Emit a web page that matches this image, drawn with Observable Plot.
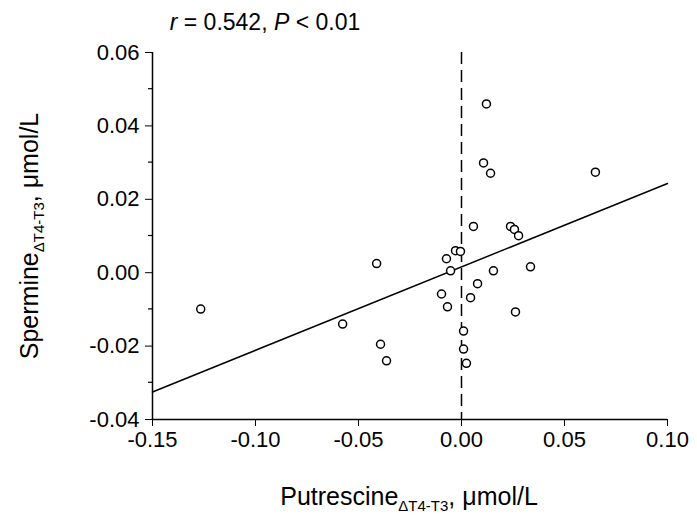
<!DOCTYPE html>
<html><head><meta charset="utf-8">
<script src="https://cdn.jsdelivr.net/npm/d3@7"></script>
<script src="https://cdn.jsdelivr.net/npm/@observablehq/plot@0.6"></script>
<style>body{margin:0;background:#fff}</style>
</head><body><div id="chart"></div>
<script>
const putrescine = [0.0121,0.0107,0.0141,0.065,0.0058,0.0238,0.0257,0.0277,-0.0029,-0.0005,-0.0073,-0.0412,-0.0053,0.0155,0.0335,-0.0097,-0.0068,0.0044,0.0078,0.0262,-0.1266,-0.0577,-0.0393,-0.0364,0.001,0.001,0.0024]
const spermine = [0.046,0.0299,0.0271,0.0274,0.0126,0.0126,0.0118,0.0101,0.006,0.0058,0.0038,0.0025,0.0005,0.0005,0.0016,-0.0058,-0.0093,-0.0068,-0.003,-0.0107,-0.0099,-0.014,-0.0195,-0.024,-0.0159,-0.0208,-0.0247]
const fitX = [-0.15, 0.10]
const fitY = [-0.0325, 0.0243]
const xTicks = [-0.15,-0.10,-0.05,0.00,0.05,0.10]
const yTicks = [-0.04,-0.02,0.00,0.02,0.04,0.06]
const yMinor = [-0.03,-0.01,0.01,0.03,0.05]

const pts = putrescine.map((x,i) => ({x, y: spermine[i]}))
const fit = fitX.map((x,i) => ({x, y: fitY[i]}))
const fmt = d => d.toFixed(2)

const chart = Plot.plot({
  width: 697, height: 525,
  marginLeft: 152, marginRight: 30, marginTop: 52, marginBottom: 106,
  style: {fontFamily: "Liberation Sans, Arial, sans-serif", fontSize: "22px", color: "#000"},
  x: {domain: [-0.15, 0.10], ticks: xTicks, tickFormat: fmt, label: null, tickSize: 7, tickPadding: 5},
  y: {domain: [-0.04, 0.06], ticks: yTicks, tickFormat: fmt, label: null, tickSize: 7, tickPadding: 6},
  marks: [
    Plot.ruleX([0], {strokeDasharray: "12,6", stroke: "black", strokeWidth: 1.5}),
    Plot.line(fit, {x: "x", y: "y", stroke: "black", strokeWidth: 1.5}),
    Plot.dot(pts, {x: "x", y: "y", r: 4, stroke: "black", strokeWidth: 1.5, fill: "white"}),
    Plot.ruleY([-0.04], {stroke: "black", strokeWidth: 1.5}),
    Plot.ruleX([-0.15], {stroke: "black", strokeWidth: 1.5})
  ]
})

const svg = d3.select(chart)
const sy = chart.scale("y")
for (const v of yMinor) {
  svg.append("line").attr("x1",152).attr("x2",148).attr("y1",sy.apply(v)).attr("y2",sy.apply(v)).attr("stroke","black").attr("stroke-width",1.2)
}
const t = svg.append("text").attr("x", 265).attr("y", 30).attr("text-anchor","middle").attr("font-size", 23)
t.append("tspan").attr("font-style","italic").text("r")
t.append("tspan").text(" = 0.542, ")
t.append("tspan").attr("font-style","italic").text("P")
t.append("tspan").text(" < 0.01")

const xl = svg.append("text").attr("x", 409).attr("y", 505).attr("text-anchor","middle").attr("font-size", 25)
xl.append("tspan").text("Putrescine")
xl.append("tspan").attr("font-size", 15).attr("dy", 6).text("ΔT4-T3")
xl.append("tspan").attr("dy", -6).text(", μmol/L")

const yl = svg.append("text").attr("transform","translate(38,236) rotate(-90)").attr("text-anchor","middle").attr("font-size", 25)
yl.append("tspan").text("Spermine")
yl.append("tspan").attr("font-size", 15).attr("dy", 6).text("ΔT4-T3")
yl.append("tspan").attr("dy", -6).text(", μmol/L")

d3.select("#chart").append(() => chart)
</script></body></html>
